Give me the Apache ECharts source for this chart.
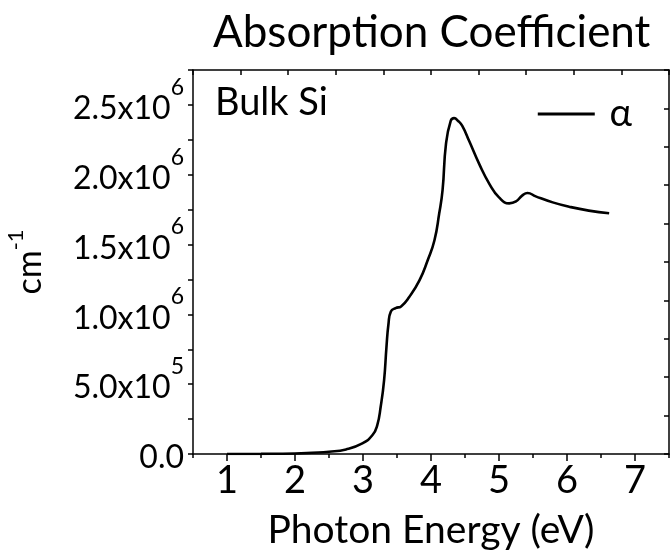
<!DOCTYPE html>
<html>
<head>
<meta charset="utf-8">
<script src="https://cdn.jsdelivr.net/npm/echarts@6/dist/echarts.min.js"></script>
<style>
  html, body { margin: 0; padding: 0; background: #fff; }
  #chart { width: 671px; height: 550px; }
</style>
</head>
<body>
<div id="chart"></div>
<script>
// Absorption coefficient of bulk silicon vs photon energy
const energy = [1.0, 1.5, 2.0, 2.25, 2.5, 2.75, 2.99, 3.14, 3.21, 3.26, 3.31, 3.345, 3.375, 3.41, 3.48, 3.56, 3.68, 3.83, 3.95, 4.05, 4.12, 4.17, 4.22, 4.29, 4.34, 4.40, 4.46, 4.56, 4.71, 4.86, 5.0, 5.15, 5.25, 5.34, 5.42, 5.54, 5.79, 6.03, 6.32, 6.62];
const alpha = [0, 1000, 4000, 9000, 16000, 33000, 76000, 136000, 207000, 338000, 528000, 766000, 933000, 1021000, 1045000, 1057000, 1124000, 1243000, 1386000, 1529000, 1720000, 1890000, 2219000, 2386000, 2405000, 2385000, 2350000, 2243000, 2076000, 1933000, 1838000, 1795000, 1809000, 1850000, 1869000, 1845000, 1802000, 1771000, 1743000, 1724000];

const xLabelValues = [1, 2, 3, 4, 5, 6, 7];
const xMinorValues = [0.5, 1.5, 2.5, 3.5, 4.5, 5.5, 6.5, 7.5];
const yLabelValues = [0, 500000, 1000000, 1500000, 2000000, 2500000];
const yTickValues = [0, 250000, 500000, 750000, 1000000, 1250000, 1500000, 1750000, 2000000, 2250000, 2500000, 2750000];
const yLabelTexts = ['0.0', '5.0x10|5', '1.0x10|6', '1.5x10|6', '2.0x10|6', '2.5x10|6'];

const FONT = 'Lato';
const ink = '#000';

function yLabel(v) {
  const i = yLabelValues.indexOf(v);
  if (i < 0) return '';
  const parts = yLabelTexts[i].split('|');
  return parts.length > 1 ? '{b|' + parts[0] + '}{s|' + parts[1] + '}' : '{b|' + parts[0] + '}';
}

const chart = echarts.init(document.getElementById('chart'), null, { renderer: 'canvas' });

const lineAxis = { show: true, lineStyle: { color: ink, width: 1.5 } };

chart.setOption({
  backgroundColor: '#fff',
  animation: false,
  title: {
    text: 'Absorption Coefficient',
    left: 208, top: 6,
    textStyle: { fontFamily: FONT, fontSize: 44, fontWeight: 'normal', color: ink }
  },
  legend: {
    right: 34, top: 90,
    icon: 'rect', itemWidth: 57, itemHeight: 3,
    textStyle: { fontFamily: FONT, fontSize: 38, color: ink },
    formatter: name => ' ' + name,
    data: ['α']
  },
  graphic: [{
    type: 'text', left: 215, top: 84,
    style: { text: 'Bulk Si', font: '38px Lato', fill: ink }
  }],
  grid: { left: 193, top: 70, width: 476, height: 384, containLabel: false, outerBoundsMode: 'none' },
  xAxis: [
    {
      type: 'value', position: 'bottom', min: 0.5, max: 7.5,
      axisLine: lineAxis,
      axisTick: { show: true, inside: false, length: 7, lineStyle: { color: ink, width: 1.5 }, customValues: xLabelValues },
      axisLabel: { show: true, customValues: xLabelValues, margin: 8, fontFamily: FONT, fontSize: 38, color: ink, formatter: v => String(v) },
      splitLine: { show: false },
      name: 'Photon Energy (eV)', nameLocation: 'middle', nameGap: 57,
      nameTextStyle: { fontFamily: FONT, fontSize: 39, color: ink }
    },
    {
      type: 'value', position: 'bottom', min: 0.5, max: 7.5, gridIndex: 0,
      axisLine: { show: false },
      axisTick: { show: true, inside: false, length: 4, lineStyle: { color: ink, width: 1.5 }, customValues: xMinorValues },
      axisLabel: { show: false }, splitLine: { show: false }
    },
    {
      type: 'value', position: 'top', min: 0, max: 10, interval: 1,
      axisLine: lineAxis,
      axisTick: { show: true, inside: true, length: 5, lineStyle: { color: ink, width: 1.5 } },
      axisLabel: { show: false }, splitLine: { show: false }
    }
  ],
  yAxis: [
    {
      type: 'value', position: 'left', min: 0, max: 2750000,
      axisLine: lineAxis,
      axisTick: { show: true, inside: false, length: 5, lineStyle: { color: ink, width: 1.5 }, customValues: yTickValues },
      axisLabel: {
        show: true, customValues: yLabelValues, margin: 9, formatter: yLabel,
        rich: {
          b: { fontFamily: FONT, fontSize: 32, color: ink, lineHeight: 40, verticalAlign: 'bottom' },
          s: { fontFamily: FONT, fontSize: 23, color: ink, lineHeight: 40, verticalAlign: 'bottom', padding: [0, 0, 26, 0] }
        }
      },
      splitLine: { show: false },
      name: '{b|cm}{s|-1}', nameLocation: 'middle', nameRotate: 90, nameGap: 146,
      nameTextStyle: {
        rich: {
          b: { fontFamily: FONT, fontSize: 34, color: ink, lineHeight: 40, verticalAlign: 'bottom' },
          s: { fontFamily: FONT, fontSize: 22, color: ink, lineHeight: 40, verticalAlign: 'bottom', padding: [0, 0, 20, 0] }
        }
      }
    },
    {
      type: 'value', position: 'right', min: 0, max: 10, interval: 1,
      axisLine: lineAxis,
      axisTick: { show: true, inside: true, length: 5, lineStyle: { color: ink, width: 1.5 } },
      axisLabel: { show: false }, splitLine: { show: false }
    }
  ],
  series: [{
    name: 'α', type: 'line', xAxisIndex: 0, yAxisIndex: 0,
    data: energy.map((e, i) => [e, alpha[i]]),
    showSymbol: false, smooth: 0.5,
    lineStyle: { color: ink, width: 2.6 },
    itemStyle: { color: ink }
  }]
});
</script>
</body>
</html>
